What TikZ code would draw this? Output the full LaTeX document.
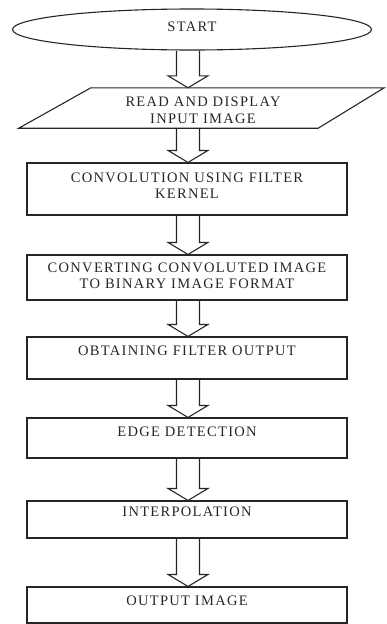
\documentclass[tikz,border=0pt]{standalone}
\usepackage{fontspec}
\setmainfont{Liberation Serif}[LetterSpace=9]
\usetikzlibrary{shapes.geometric,calc}

\tikzset{
  flowline/.style={draw=black!85, line width=1.1pt},
  procbox/.style={flowline, rectangle, minimum width=320pt, inner sep=0pt},
  lbl/.style={anchor=north, align=center, inner sep=0pt, text=black!85,
    font=\fontsize{14.5}{16.5}\selectfont},
  blockarr/.style={flowline, line join=miter},
}

% hollow block arrow between two named nodes
\newcommand\flowarrow[2]{%
  \draw[blockarr]
    ($(axis |- #1.south)+(-11.5,0)$) -- ($(axis |- #2.north)+(-11.5,-12)$)
    -- ($(axis |- #2.north)+(-20,-12)$) -- (axis |- #2.north)
    -- ($(axis |- #2.north)+(20,-12)$) -- ($(axis |- #2.north)+(11.5,-12)$)
    -- ($(axis |- #1.south)+(11.5,0)$);
}

\begin{document}
\begin{tikzpicture}[x=1pt, y=-1pt]
    \useasboundingbox (0,0) rectangle (386,624);
    \coordinate (axis) at (188,0);
    % Flowchart steps
    \node[flowline, ellipse, minimum width=359pt, minimum height=41pt, inner sep=0pt,
      label={[lbl, yshift=-13pt]north:START}] (start) at (192,29.5) {};
    \node[rectangle, minimum width=296pt, minimum height=40pt, inner sep=0pt,
      label={[lbl, yshift=-9pt]north:{READ AND DISPLAY\\INPUT IMAGE}}] (read) at (203,108) {};
    \draw[flowline] ($(read.south west)+(-36,0)$) -- ($(read.north west)+(36,0)$)
      -- ($(read.north east)+(33,0)$) -- ($(read.south east)+(-33,0)$) -- cycle;
    \node[procbox, minimum height=52pt,
      label={[lbl, yshift=-10pt]north:{CONVOLUTION USING FILTER\\KERNEL}}] (conv) at (187,189) {};
    \node[procbox, minimum height=45pt,
      label={[lbl, yshift=-8pt]north:{CONVERTING CONVOLUTED IMAGE\\TO BINARY IMAGE FORMAT}}] (binary) at (187,277.5) {};
    \node[procbox, minimum height=42pt,
      label={[lbl, yshift=-9pt]north:OBTAINING FILTER OUTPUT}] (filter) at (187,358) {};
    \node[procbox, minimum height=40pt,
      label={[lbl, yshift=-9pt]north:EDGE DETECTION}] (edge) at (187,438) {};
    \node[procbox, minimum height=37pt,
      label={[lbl, yshift=-6pt]north:INTERPOLATION}] (interp) at (187,519.5) {};
    \node[procbox, minimum height=36pt,
      label={[lbl, yshift=-9pt]north:OUTPUT IMAGE}] (outimg) at (187,605) {};
    % Connectors
    \foreach \a/\b in {start/read, read/conv, conv/binary, binary/filter,
      filter/edge, edge/interp, interp/outimg}
      \flowarrow{\a}{\b};
\end{tikzpicture}
\end{document}
